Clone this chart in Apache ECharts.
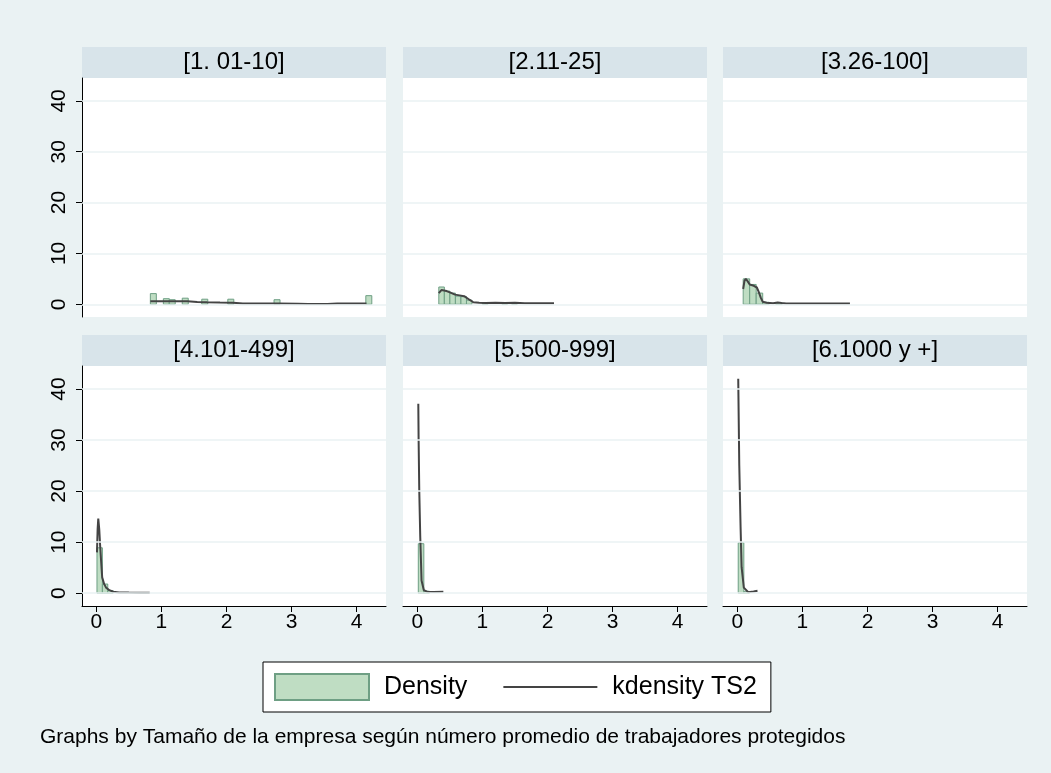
<!DOCTYPE html>
<html>
<head>
<meta charset="utf-8">
<script src="https://cdn.jsdelivr.net/npm/echarts@6/dist/echarts.min.js"></script>
<style>
  html, body { margin: 0; padding: 0; background: #EAF2F3; }
  #chart { width: 1051px; height: 773px; }
</style>
</head>
<body>
<div id="chart"></div>
<script>
// panel titles (Stata by() groups)
const panelTitles = ["[1. 01-10]", "[2.11-25]", "[3.26-100]", "[4.101-499]", "[5.500-999]", "[6.1000 y +]"];
const xTicks = [0, 1, 2, 3, 4];
const yTicks = [0, 10, 20, 30, 40];

// histogram: left edge of each bin, bin width and density per panel
const binWidths = [0.092, 0.085, 0.1, 0.083, 0.085, 0.086];
const hist1Start = [0.83, 1.03, 1.12, 1.32, 1.62, 2.02, 2.73, 4.14];
const hist1Density = [2.1, 1.1, 0.9, 1.2, 1.0, 1.0, 0.9, 1.7];
const hist2Start = [0.33, 0.415, 0.5, 0.585, 0.67, 0.755, 1.0, 1.3, 1.45];
const hist2Density = [3.4, 2.6, 2.2, 1.6, 1.5, 0.8, 0.3, 0.2, 0.2];
const hist3Start = [0.09, 0.19, 0.29, 0.39, 0.59];
const hist3Density = [5.0, 3.9, 2.2, 0.4, 0.3];
const hist4Start = [0.01, 0.093, 0.176];
const hist4Density = [8.9, 1.8, 0.5];
const hist5Start = [0.015, 0.1];
const hist5Density = [9.7, 0.4];
const hist6Start = [0.014, 0.1];
const hist6Density = [9.9, 0.3];

// kernel density estimate per panel
const kd1X = [0.83, 1.0, 1.2, 1.4, 1.55, 1.7, 1.9, 2.1, 2.25, 2.5, 2.8, 3.1, 3.25, 3.4, 3.55, 3.7, 4.0, 4.15];
const kd1Y = [0.62, 0.62, 0.6, 0.58, 0.45, 0.4, 0.35, 0.32, 0.15, 0.14, 0.14, 0.13, 0.07, 0.06, 0.07, 0.14, 0.14, 0.15];
const kd2X = [0.33, 0.37, 0.4, 0.45, 0.51, 0.58, 0.65, 0.72, 0.8, 0.86, 0.95, 1.05, 1.2, 1.35, 1.5, 1.65, 1.8, 2.1];
const kd2Y = [2.2, 2.8, 2.95, 2.6, 2.3, 1.9, 1.75, 1.6, 0.9, 0.4, 0.3, 0.25, 0.3, 0.25, 0.3, 0.2, 0.2, 0.2];
const kd3X = [0.09, 0.11, 0.13, 0.16, 0.19, 0.24, 0.3, 0.33, 0.36, 0.39, 0.45, 0.55, 0.62, 0.68, 0.75, 1.0, 1.4, 1.73];
const kd3Y = [3.0, 4.6, 5.0, 4.5, 3.9, 3.7, 3.3, 2.4, 1.3, 0.5, 0.3, 0.2, 0.35, 0.25, 0.15, 0.15, 0.15, 0.15];
const kd4X = [0.01, 0.02, 0.03, 0.045, 0.06, 0.09, 0.12, 0.15, 0.2, 0.26, 0.35, 0.5, 0.65, 0.82];
const kd4Y = [8.0, 12.5, 14.6, 12.5, 9.0, 3.1, 1.8, 1.1, 0.6, 0.3, 0.15, 0.12, 0.1, 0.1];
const kd5X = [0.015, 0.02, 0.03, 0.045, 0.065, 0.1, 0.15, 0.25, 0.4];
const kd5Y = [37.1, 30, 20, 11, 2.5, 0.6, 0.3, 0.25, 0.3];
const kd6X = [0.014, 0.03, 0.05, 0.066, 0.1, 0.168, 0.25, 0.31];
const kd6Y = [42, 25, 13, 5.1, 1.1, 0.2, 0.35, 0.5];

const noteText = "Graphs by Tamaño de la empresa según número promedio de trabajadores protegidos";

const histStarts = [hist1Start, hist2Start, hist3Start, hist4Start, hist5Start, hist6Start];
const histDensities = [hist1Density, hist2Density, hist3Density, hist4Density, hist5Density, hist6Density];
const kdXs = [kd1X, kd2X, kd3X, kd4X, kd5X, kd6X];
const kdYs = [kd1Y, kd2Y, kd3Y, kd4Y, kd5Y, kd6Y];

const font = "'Liberation Sans', Arial, sans-serif";
const barFill = "#BFDDC3";
const barEdge = "#6E9F84";
const lineColor = "#444444";
const colLeft = [82, 403, 723];
const rowTop = [78, 366];
const rowHeight = [239, 240];
const plotWidth = 304;
const stripHeight = 31;

const grids = [], xAxes = [], yAxes = [], series = [], titles = [], strips = [];

for (let i = 0; i < 6; i++) {
  const col = i % 3, row = Math.floor(i / 3);
  const left = colLeft[col], top = rowTop[row];
  grids.push({
    left, top, width: plotWidth, height: rowHeight[row],
    show: true, backgroundColor: "#fff", borderWidth: 0
  });
  xAxes.push({
    type: "value", gridIndex: i, min: -0.22, max: 4.45,
    axisLine: { show: row === 1, onZero: false, lineStyle: { color: "#000", width: 1 } },
    axisTick: { show: row === 1, length: 6, customValues: xTicks, lineStyle: { color: "#000" } },
    axisLabel: { show: row === 1, customValues: xTicks, margin: 6, fontSize: 21, color: "#000", fontFamily: font },
    splitLine: { show: false }
  });
  yAxes.push({
    type: "value", gridIndex: i, min: -2.5, max: 44.5,
    axisLine: { show: col === 0, onZero: false, lineStyle: { color: "#000", width: 1 } },
    axisTick: { show: col === 0, length: 6, customValues: yTicks, lineStyle: { color: "#000" } },
    axisLabel: { show: col === 0, customValues: yTicks, rotate: 90, margin: 12, fontSize: 21, color: "#000", fontFamily: font },
    splitLine: { show: false }
  });
  const w = binWidths[i];
  series.push({
    name: "Density", type: "custom", xAxisIndex: i, yAxisIndex: i, z: 2,
    itemStyle: { color: barFill },
    encode: { x: [0, 1], y: 2 },
    data: histStarts[i].map((s, k) => [s, s + w, histDensities[i][k]]),
    renderItem(params, api) {
      const p0 = api.coord([api.value(0), api.value(2)]);
      const p1 = api.coord([api.value(1), 0]);
      return {
        type: "rect",
        shape: { x: p0[0], y: p0[1], width: p1[0] - p0[0], height: p1[1] - p0[1] },
        style: { fill: barFill, stroke: barEdge, lineWidth: 1 }
      };
    },
    markLine: {
      silent: true, symbol: "none", label: { show: false }, animation: false,
      lineStyle: { color: "#EAF2F3", width: 1.5, type: "solid" },
      data: yTicks.map(v => ({ yAxis: v }))
    }
  });
  series.push({
    name: "kdensity TS2", type: "line", xAxisIndex: i, yAxisIndex: i, z: 3,
    symbol: "none", smooth: false,
    lineStyle: { color: lineColor, width: 2 },
    itemStyle: { color: lineColor },
    data: kdXs[i].map((x, k) => [x, kdYs[i][k]])
  });
  strips.push({
    type: "rect", left, top: top - stripHeight, z: -1,
    shape: { width: plotWidth, height: stripHeight },
    style: { fill: "#D8E4EA" }
  });
  titles.push({
    text: panelTitles[i], left: left + plotWidth / 2, top: top - stripHeight + 3,
    textAlign: "center", padding: 0,
    textStyle: { fontSize: 24, fontWeight: "normal", color: "#000", fontFamily: font }
  });
}

titles.push({
  text: noteText, left: 40, top: 727, padding: 0,
  textStyle: { fontSize: 21, fontWeight: "normal", color: "#000", fontFamily: font }
});

const chart = echarts.init(document.getElementById("chart"));
chart.setOption({
  backgroundColor: "#EAF2F3",
  animation: false,
  title: titles,
  graphic: strips,
  grid: grids,
  xAxis: xAxes,
  yAxis: yAxes,
  legend: {
    left: 263, top: 662,
    padding: [11, 14, 11, 11],
    itemWidth: 94, itemHeight: 26, itemGap: 36,
    backgroundColor: "#fff", borderColor: "#000", borderWidth: 1, borderRadius: 0,
    textStyle: { fontSize: 25, color: "#000", fontFamily: font, padding: [0, 0, 0, 10] },
    data: [
      { name: "Density", icon: "rect", itemStyle: { color: barFill, borderColor: barEdge, borderWidth: 2 } },
      { name: "kdensity TS2", icon: "path://M0,0 L94,0 L94,2 L0,2 Z", itemStyle: { color: lineColor, borderWidth: 0 } }
    ]
  },
  series
});
</script>
</body>
</html>
